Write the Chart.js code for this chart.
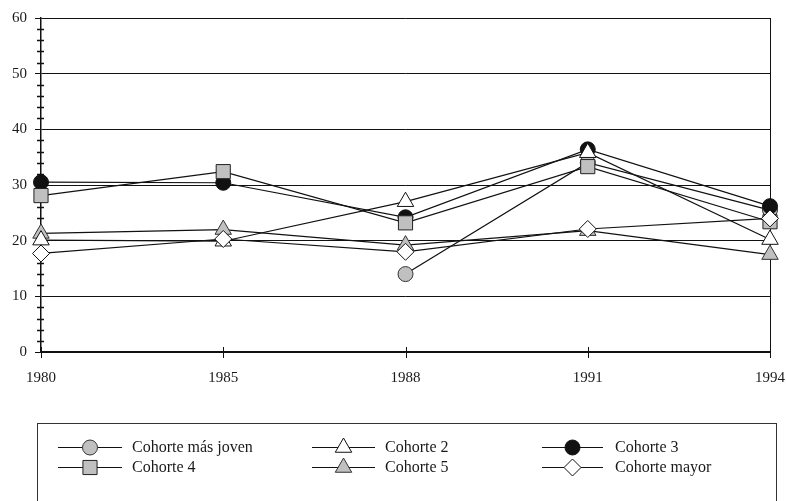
<!DOCTYPE html>
<html>
<head>
<meta charset="utf-8">
<script src="https://cdn.jsdelivr.net/npm/chart.js@4/dist/chart.umd.min.js"></script>
<style>
  html, body { margin: 0; padding: 0; background: #ffffff; }
  #wrap { width: 786px; height: 501px; }
</style>
</head>
<body>
<div id="wrap"><canvas id="c" width="786" height="501"></canvas></div>
<script>
// Survey years on the category axis
const years = ['1980', '1985', '1988', '1991', '1994'];

// Value axis range and tick spacing
const yMin = 0;
const yMax = 60;
const yStep = 10;
const yMinorStep = 2;

// Series names (legend order)
const seriesNames = ['Cohorte más joven', 'Cohorte 2', 'Cohorte 3', 'Cohorte 4', 'Cohorte 5', 'Cohorte mayor'];

// Values per cohort and year
const cohorteMasJoven = [null, null, 14.0, 34.0, 25.5];
const cohorte2        = [20.1, 19.9, 27.0, 35.8, 20.2];
const cohorte3        = [30.5, 30.4, 24.2, 36.4, 26.2];
const cohorte4        = [28.1, 32.4, 23.2, 33.3, 23.4];
const cohorte5        = [21.3, 22.0, 19.2, 21.8, 17.5];
const cohorteMayor    = [17.7, 20.3, 18.0, 22.1, 24.0];

const seriesValues = [cohorteMasJoven, cohorte2, cohorte3, cohorte4, cohorte5, cohorteMayor];

const INK = '#111111';
const GREY = '#c0c0c0';
const FONT = '"Liberation Serif", "Times New Roman", serif';

// Marker look per series
const markerStyles = [
  { pointStyle: 'circle',   radius: 7.5, fill: GREY,      stroke: '#333333', order: 5 },
  { pointStyle: 'triangle', radius: 9.5, fill: '#ffffff', stroke: INK,       order: 1 },
  { pointStyle: 'circle',   radius: 7.5, fill: INK,       stroke: INK,       order: 3 },
  { pointStyle: 'rect',     radius: 10,  fill: GREY,      stroke: '#222222', order: 2 },
  { pointStyle: 'triangle', radius: 9.5, fill: GREY,      stroke: '#333333', order: 4 },
  { pointStyle: 'rectRot',  radius: 8.5, fill: '#ffffff', stroke: INK,       order: 0 }
];

const datasets = seriesNames.map((name, i) => ({
  label: name,
  data: seriesValues[i],
  order: markerStyles[i].order,
  borderColor: INK,
  borderWidth: 1.2,
  backgroundColor: markerStyles[i].fill,
  pointStyle: markerStyles[i].pointStyle,
  pointRadius: markerStyles[i].radius,
  pointHoverRadius: markerStyles[i].radius,
  pointBackgroundColor: markerStyles[i].fill,
  pointBorderColor: markerStyles[i].stroke,
  pointBorderWidth: 1,
  fill: false,
  tension: 0,
  spanGaps: false
}));

// Minor ticks on the value axis and crossing ticks on the category axis
const axisMarks = {
  id: 'axisMarks',
  beforeDatasetsDraw(chart) {
    const { ctx, chartArea, scales } = chart;
    const ys = scales.y, xs = scales.x;
    ctx.save();
    ctx.strokeStyle = INK;
    ctx.lineWidth = 1.5;
    for (let v = yMin; v <= yMax; v += yMinorStep) {
      if (v % yStep === 0) continue;
      const py = Math.round(ys.getPixelForValue(v)) + 0.5;
      ctx.beginPath();
      ctx.moveTo(chartArea.left - 4, py);
      ctx.lineTo(chartArea.left + 3, py);
      ctx.stroke();
    }
    ctx.lineWidth = 1;
    for (let i = 0; i < years.length; i++) {
      const px = Math.round(xs.getPixelForTick(i)) + 0.5;
      ctx.beginPath();
      ctx.moveTo(px, chartArea.bottom - 5);
      ctx.lineTo(px, chartArea.bottom + 6);
      ctx.stroke();
    }
    ctx.restore();
  }
};

// Boxed legend: three columns, two rows, each entry a line with its marker
const boxedLegend = {
  id: 'boxedLegend',
  afterDraw(chart) {
    const ctx = chart.ctx;
    const box = { left: 37.5, top: 423.5, right: 776.5, bottom: 520 };
    const cols = [
      { x0: 58, x1: 122, tx: 132 },
      { x0: 312, x1: 375, tx: 385 },
      { x0: 542, x1: 603, tx: 615 }
    ];
    const rows = [447, 467];
    ctx.save();
    ctx.strokeStyle = '#333333';
    ctx.lineWidth = 1;
    ctx.strokeRect(box.left, box.top, box.right - box.left, box.bottom - box.top);

    chart.data.datasets.forEach((ds, i) => {
      const c = cols[i % 3];
      const y = rows[Math.floor(i / 3)];
      ctx.strokeStyle = INK;
      ctx.lineWidth = 1.2;
      ctx.beginPath();
      ctx.moveTo(c.x0, y + 0.5);
      ctx.lineTo(c.x1, y + 0.5);
      ctx.stroke();
      ctx.fillStyle = ds.pointBackgroundColor;
      ctx.strokeStyle = ds.pointBorderColor;
      ctx.lineWidth = 1;
      Chart.helpers.drawPoint(ctx, {
        pointStyle: ds.pointStyle,
        radius: ds.pointRadius,
        rotation: 0,
        borderWidth: 1
      }, (c.x0 + c.x1) / 2, y + 0.5);
      ctx.fillStyle = '#1a1a1a';
      ctx.font = '16px ' + FONT;
      ctx.textBaseline = 'middle';
      ctx.textAlign = 'left';
      ctx.fillText(ds.label, c.tx, y + 1);
    });
    ctx.restore();
  }
};

new Chart(document.getElementById('c'), {
  type: 'line',
  data: { labels: years, datasets },
  plugins: [axisMarks, boxedLegend],
  options: {
    responsive: false,
    animation: false,
    events: [],
    layout: { padding: { top: 18, right: 16, bottom: 109, left: 0 } },
    plugins: {
      legend: { display: false },
      tooltip: { enabled: false },
      title: { display: false }
    },
    scales: {
      x: {
        type: 'category',
        offset: false,
        afterFit(scale) {
          scale.height = 40;
          scale.paddingLeft = 0;
          scale.paddingRight = 0;
        },
        grid: {
          display: true,
          drawOnChartArea: true,
          drawTicks: false,
          lineWidth: 1,
          color: (c) => (c.index === years.length - 1 ? INK : 'rgba(0,0,0,0)')
        },
        border: { display: true, color: INK, width: 1.5 },
        ticks: {
          autoSkip: false,
          maxRotation: 0,
          padding: 17,
          color: '#1a1a1a',
          font: { family: FONT, size: 15 }
        }
      },
      y: {
        min: yMin,
        max: yMax,
        afterFit(scale) {
          scale.width = 41;
          scale.paddingTop = 0;
          scale.paddingBottom = 0;
        },
        grid: {
          color: INK,
          lineWidth: 1,
          drawTicks: true,
          tickLength: 6,
          tickColor: INK
        },
        border: { display: true, color: INK, width: 1.5 },
        ticks: {
          stepSize: yStep,
          padding: 8,
          color: '#1a1a1a',
          font: { family: FONT, size: 15 }
        }
      }
    }
  }
});
</script>
</body>
</html>
